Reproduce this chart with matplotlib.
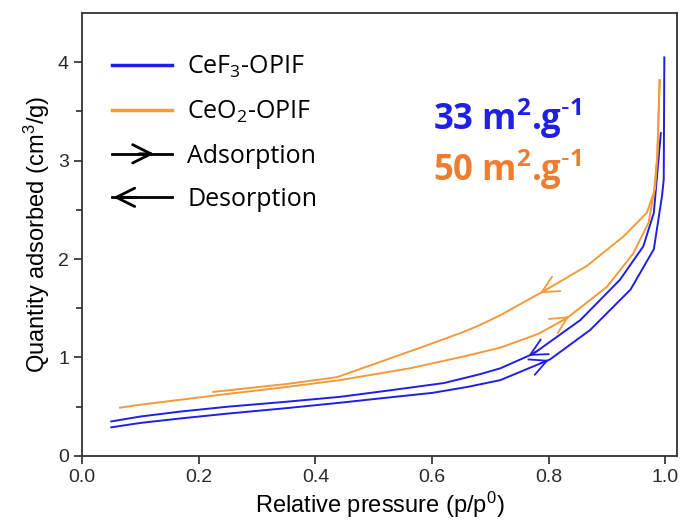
import numpy as np
import matplotlib
matplotlib.use("Agg")
import matplotlib.pyplot as plt
from matplotlib.lines import Line2D
from matplotlib.patches import FancyArrowPatch
from matplotlib.legend_handler import HandlerBase

plt.rcParams['font.family'] = ['Liberation Sans', 'DejaVu Sans']
plt.rcParams['mathtext.default'] = 'regular'

# CeF3-OPIF isotherm
cef3_ads_x = [0.05, 0.10, 0.168, 0.25, 0.35, 0.442, 0.52, 0.60, 0.66, 0.717, 0.802,
              0.871, 0.94, 0.98, 0.994, 0.997, 0.998]
cef3_ads_y = [0.29, 0.335, 0.38, 0.43, 0.485, 0.54, 0.59, 0.64, 0.70, 0.77, 0.98,
              1.28, 1.69, 2.10, 2.64, 2.81, 4.05]
cef3_des_x = [0.992, 0.985, 0.98, 0.962, 0.922, 0.854, 0.774, 0.717, 0.682, 0.62,
              0.52, 0.442, 0.35, 0.25, 0.168, 0.10, 0.05]
cef3_des_y = [3.28, 2.81, 2.47, 2.13, 1.79, 1.38, 1.04, 0.89, 0.83, 0.74,
              0.66, 0.60, 0.55, 0.50, 0.45, 0.40, 0.35]

# CeO2-OPIF isotherm
ceo2_ads_x = [0.065, 0.10, 0.168, 0.25, 0.35, 0.442, 0.562, 0.654, 0.717, 0.782,
              0.831, 0.90, 0.945, 0.971, 0.98, 0.986, 0.99]
ceo2_ads_y = [0.49, 0.52, 0.57, 0.63, 0.70, 0.77, 0.89, 1.01, 1.10, 1.24,
              1.40, 1.72, 2.06, 2.37, 2.67, 3.05, 3.82]
ceo2_des_x = [0.99, 0.986, 0.982, 0.968, 0.928, 0.865, 0.79, 0.717, 0.682, 0.654,
              0.58, 0.437, 0.35, 0.225]
ceo2_des_y = [3.82, 3.05, 2.71, 2.47, 2.23, 1.93, 1.67, 1.43, 1.33, 1.26,
              1.10, 0.80, 0.73, 0.65]

blue = '#1f1fe6'
orange = '#f39a3a'


def curve_arrow(ax, xs, ys, xa, direction, color):
    # arrow head on a curve at x=xa, pointing towards increasing (1) or decreasing (-1) x
    order = np.argsort(xs)
    xs_s = np.asarray(xs)[order]
    ys_s = np.asarray(ys)[order]
    x0 = xa - 0.015 * direction
    ax.annotate('', xy=(xa, np.interp(xa, xs_s, ys_s)),
                xytext=(x0, np.interp(x0, xs_s, ys_s)),
                arrowprops=dict(arrowstyle='->,head_length=0.6,head_width=0.3',
                                color=color, lw=1.3, shrinkA=0, shrinkB=0,
                                mutation_scale=20))


class HandlerArrow(HandlerBase):
    def __init__(self, direction):
        super().__init__()
        self.direction = direction

    def create_artists(self, legend, orig_handle, xdescent, ydescent, width, height,
                       fontsize, trans):
        y = height / 2 - ydescent
        x0, x1 = -xdescent, width - xdescent
        line = Line2D([x0, x1], [y, y], color='k', lw=2, transform=trans)
        if self.direction > 0:
            a, b = x0 + 0.45 * width, x0 + 0.7 * width
        else:
            a, b = x0 + 0.4 * width, x0 + 0.02 * width
        arr = FancyArrowPatch((a, y), (b, y), arrowstyle='->,head_length=0.6,head_width=0.3',
                              mutation_scale=22, color='k', lw=2, transform=trans,
                              shrinkA=0, shrinkB=0)
        return [line, arr]


fig = plt.figure(figsize=(6.84, 5.24), dpi=100)
ax = fig.add_axes([0.12, 0.13, 0.87, 0.845])

ax.plot(cef3_ads_x, cef3_ads_y, color=blue, lw=1.4)
ax.plot(cef3_des_x, cef3_des_y, color=blue, lw=1.4)
ax.plot(ceo2_ads_x, ceo2_ads_y, color=orange, lw=1.4)
ax.plot(ceo2_des_x, ceo2_des_y, color=orange, lw=1.4)

curve_arrow(ax, cef3_ads_x, cef3_ads_y, 0.80, 1, blue)
curve_arrow(ax, cef3_des_x, cef3_des_y, 0.765, -1, blue)
curve_arrow(ax, ceo2_ads_x, ceo2_ads_y, 0.835, 1, orange)
curve_arrow(ax, ceo2_des_x, ceo2_des_y, 0.785, -1, orange)

ax.set_xlim(0, 1.02)
ax.set_ylim(0, 4.5)
ax.set_xticks([0.0, 0.2, 0.4, 0.6, 0.8, 1.0])
ax.set_yticks([0, 1, 2, 3, 4])
ax.set_yticks([0.5, 1.5, 2.5, 3.5], minor=True)
ax.tick_params(direction='out', labelsize=14, length=6, width=1.2, colors='#2a2a2a')
ax.tick_params(which='minor', direction='out', length=4, width=1.2, colors='#2a2a2a')
for s in ax.spines.values():
    s.set_color('#333333')
    s.set_linewidth(1.3)

ax.set_xlabel('Relative pressure (p/p$^0$)', fontsize=17, labelpad=3)
ax.set_ylabel('Quantity adsorbed (cm$^3$/g)', fontsize=17, labelpad=4)

h_ads = Line2D([], [], color='k')
h_des = Line2D([], [], color='k')
handles = [Line2D([], [], color=blue, lw=2.5), Line2D([], [], color=orange, lw=2.5),
           h_ads, h_des]
labels = ['CeF$_3$-OPIF', 'CeO$_2$-OPIF', 'Adsorption', 'Desorption']
leg = ax.legend(handles, labels, loc='upper left', bbox_to_anchor=(0.0, 0.975),
                frameon=False, prop={'family': 'Open Sans', 'size': 18},
                handlelength=2.4, handletextpad=0.6, labelspacing=0.74,
                borderaxespad=0.8,
                handler_map={h_ads: HandlerArrow(1), h_des: HandlerArrow(-1)})

ax.text(0.59, 0.763, r'33 m$^2$.g$^{\text{-}1}$', transform=ax.transAxes, color='#1f1fe6',
        fontsize=25, fontweight='bold', family='Open Sans', va='center', ha='left')
ax.text(0.59, 0.646, r'50 m$^2$.g$^{\text{-}1}$', transform=ax.transAxes, color='#ed7d31',
        fontsize=25, fontweight='bold', family='Open Sans', va='center', ha='left')

fig.savefig('out.png', dpi=100)
